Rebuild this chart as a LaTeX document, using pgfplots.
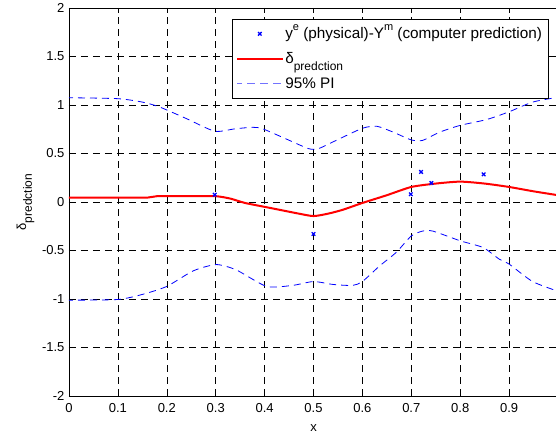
\documentclass[border=0pt]{standalone}
\usepackage{pgfplots}
\pgfplotsset{compat=1.18}
\usepackage{fontspec}
\setmainfont{Liberation Sans}

\definecolor{mblue}{rgb}{0,0,1}
\definecolor{mred}{rgb}{1,0,0}

\newcommand{\sups}[1]{\raisebox{0.55em}{\fontsize{11bp}{11bp}\selectfont #1}}
\newcommand{\subs}[1]{\raisebox{-0.45em}{\fontsize{12bp}{12bp}\selectfont #1}}

\begin{document}
\fontsize{13bp}{15.6bp}\selectfont
\begin{tikzpicture}
\begin{axis}[
    scale only axis,
    width=489bp, height=388bp,
    xmin=0, xmax=1, ymin=-2, ymax=2,
    xtick={0,0.1,...,0.9},
    xticklabels={0,0.1,0.2,0.3,0.4,0.5,0.6,0.7,0.8,0.9},
    ytick={-2,-1.5,...,2},
    yticklabels={-2,-1.5,-1,-0.5,0,0.5,1,1.5,2},
    tick align=inside,
    major tick length=5bp,
    tick style={black, line width=0.5bp},
    axis line style={black, line width=0.6bp},
    grid=major,
    major grid style={black, line width=0.5bp, dash pattern=on 7bp off 5bp},
    xlabel={x},
    ylabel={δ\subs{predction}},
    x label style={at={(axis description cs:0.5,0)}, anchor=center, yshift=-32bp},
    y label style={at={(axis description cs:-0.089,0.5)}, anchor=center},
    xticklabel style={yshift=-3bp},
    legend style={at={(rel axis cs:0.3333,0.9716)}, anchor=north west,
        draw=black, line width=0.6bp, fill=white,
        font=\fontsize{15.3bp}{18bp}\selectfont,
        inner xsep=4bp, inner ysep=2bp, row sep=0bp,
        nodes={inner sep=2bp, text height=15.5bp, text depth=5.5bp},
        cells={anchor=west},
        /tikz/every even column/.style={column sep=0bp}},
    legend image code/.code={\draw[mark repeat=2,mark phase=2,#1] plot coordinates {(4bp,0bp) (26.5bp,0bp) (49bp,0bp)};},
]
% y^e - Y^m observations
\addplot[only marks, mark=x, mblue, mark size=2.5bp, line width=1.3bp] coordinates {
    (0.298,0.075) (0.5,-0.33) (0.699,0.08) (0.72,0.31) (0.741,0.196) (0.848,0.285)
};
\addlegendentry{y\sups{e} (physical)-Y\sups{m} (computer prediction)}

% prediction
\addplot[mred, line width=2bp, smooth, tension=0.4] coordinates {
    (0,0.045) (0.1,0.045) (0.16,0.045) (0.18,0.06) (0.25,0.06) (0.3,0.06)
    (0.33,0.035) (0.36,-0.01) (0.4,-0.05) (0.44,-0.09) (0.47,-0.12) (0.5,-0.145)
    (0.53,-0.12) (0.56,-0.08) (0.6,-0.01) (0.65,0.07) (0.7,0.155) (0.75,0.19)
    (0.8,0.21) (0.85,0.19) (0.9,0.155) (0.95,0.11) (1.0,0.07)
};
\addlegendentry{δ\subs{predction}}

% 95% PI upper
\addplot[color=mblue, line width=0.8bp, dash pattern=on 7bp off 5bp, dash phase=3bp, smooth, tension=0.4,
    legend image post style={draw=mblue!55, line width=1.2bp, dash pattern=on 8bp off 5bp}] coordinates {
    (0,1.075) (0.1,1.065) (0.15,1.03) (0.185,0.98) (0.24,0.86) (0.298,0.73)
    (0.34,0.755) (0.376,0.77) (0.396,0.755) (0.444,0.65) (0.49,0.55) (0.51,0.55)
    (0.54,0.62) (0.6,0.76) (0.63,0.78) (0.663,0.72) (0.7,0.64) (0.723,0.635)
    (0.758,0.72) (0.8,0.79) (0.854,0.85) (0.9,0.93) (0.948,1.03) (1.0,1.08)
};
\addlegendentry{95\% PI}

% 95% PI lower
\addplot[color=mblue, line width=0.8bp, dash pattern=on 7bp off 5bp, dash phase=3bp, smooth, tension=0.4, forget plot] coordinates {
    (0,-1.012) (0.1,-1.005) (0.152,-0.95) (0.2,-0.87) (0.254,-0.71) (0.301,-0.645)
    (0.342,-0.70) (0.404,-0.87) (0.457,-0.86) (0.5,-0.82) (0.54,-0.85) (0.58,-0.86)
    (0.6,-0.82) (0.635,-0.66) (0.669,-0.52) (0.7,-0.35) (0.723,-0.30) (0.744,-0.30)
    (0.8,-0.40) (0.847,-0.47) (0.88,-0.59) (0.9,-0.64) (0.948,-0.82) (1.0,-0.92)
};
\end{axis}
\pgfresetboundingbox
\path ([xshift=-69bp,yshift=-39bp]current axis.south west)
    rectangle ([xshift=487bp,yshift=8bp]current axis.north west);
\end{tikzpicture}
\end{document}
